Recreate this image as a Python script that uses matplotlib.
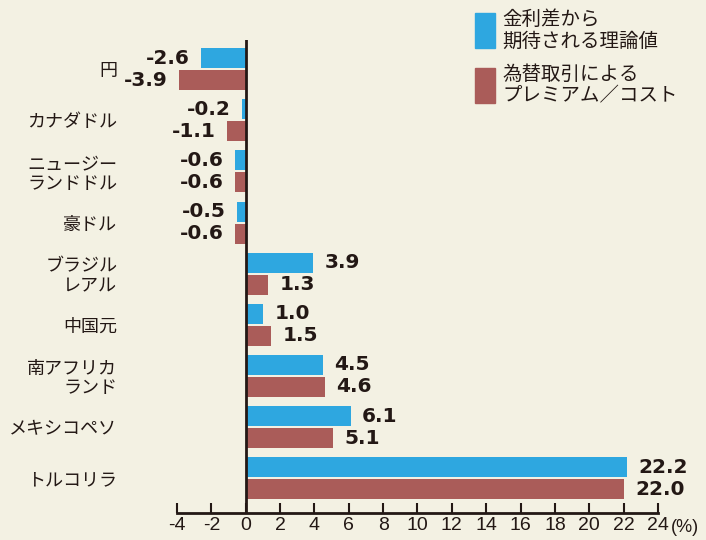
import numpy as np
import matplotlib.pyplot as plt

categories = ["円", "カナダドル", "ニュージー\nランドドル", "豪ドル", "ブラジル\nレアル",
              "中国元", "南アフリカ\nランド", "メキシコペソ", "トルコリラ"]
theory = [-2.6, -0.2, -0.6, -0.5, 3.9, 1.0, 4.5, 6.1, 22.2]
premium = [-3.9, -1.1, -0.6, -0.6, 1.3, 1.5, 4.6, 5.1, 22.0]
xticks = list(range(-4, 25, 2))
legend_labels = ["金利差から\n期待される理論値", "為替取引による\nプレミアム／コスト"]

bg = "#f3f1e3"
blue = "#2ea7e0"
red = "#aa5c59"
ink = "#231815"
jp = ["Noto Sans CJK JP", "DejaVu Sans"]
num = ["Liberation Sans", "DejaVu Sans"]

W, H = 706, 540
fig = plt.figure(figsize=(W / 100, H / 100), dpi=100, facecolor=bg)
ax = fig.add_axes([177 / W, 27 / H, 481 / W, 473 / H], facecolor=bg)

y = np.arange(len(categories))
off, h = 0.215, 0.39
b1 = ax.barh(y - off, theory, height=h, color=blue)
b2 = ax.barh(y + off, premium, height=h, color=red)

for bars, vals in ((b1, theory), (b2, premium)):
    for bar, v in zip(bars, vals):
        yc = bar.get_y() + bar.get_height() / 2
        ax.annotate(f"{v:.1f}", (v, yc), xytext=(8.3 if v > 0 else -8.3, 0),
                    textcoords="offset points", ha="left" if v > 0 else "right",
                    va="center", fontsize=14.5, fontweight="bold",
                    family="DejaVu Sans", color=ink)

ax.set_xlim(-4, 24)
ax.set_ylim(8.68, -0.57)
ax.axvline(0, color=ink, lw=2)

for s in ["top", "right", "left"]:
    ax.spines[s].set_visible(False)
ax.spines["bottom"].set_color(ink)
ax.spines["bottom"].set_linewidth(2)

ax.set_xticks(xticks)
ax.set_xticklabels([str(t) for t in xticks], fontsize=14, family=num, color=ink)
ax.tick_params(axis="x", direction="in", length=7, width=1.5, color=ink, pad=3)
ax.set_yticks(y)
ax.set_yticklabels(categories, fontsize=13, family=jp, color=ink, linespacing=1.1)
ax.tick_params(axis="y", length=0, pad=43)

fig.text(671 / W, 1 - 519 / H, "(%)", fontsize=13, family=num, color=ink, va="top")

# legend
for i, (lab, c) in enumerate(zip(legend_labels, [blue, red])):
    top = 13 + i * 55
    fig.patches.append(plt.Rectangle((475 / W, 1 - (top + 35) / H), 20 / W, 35 / H,
                                     color=c, transform=fig.transFigure))
    fig.text(502 / W, 1 - (top + 17) / H, lab, fontsize=14, family=jp, color=ink,
             va="center", linespacing=1.05)

fig.savefig("out.png", dpi=100, facecolor=bg)
